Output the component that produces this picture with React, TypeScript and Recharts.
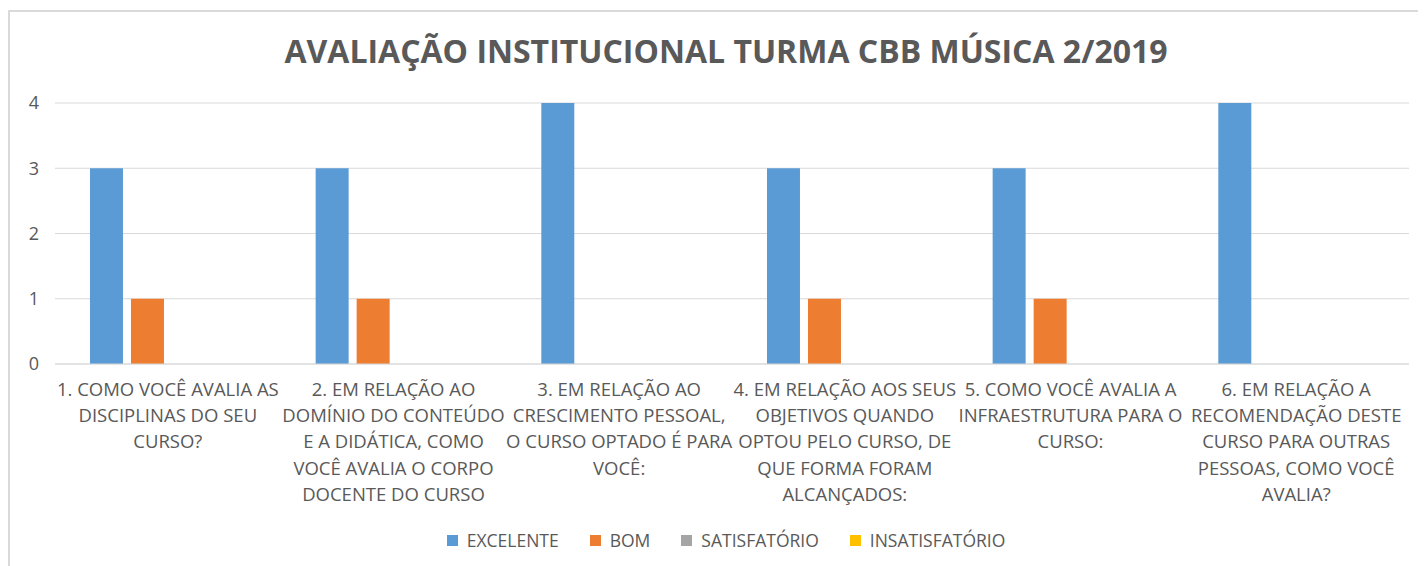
import React from 'react'
import { BarChart, Bar, XAxis, YAxis, CartesianGrid, Legend } from 'recharts'

const categories = [
  '1. COMO VOCÊ AVALIA AS\nDISCIPLINAS DO SEU\nCURSO?',
  '2. EM RELAÇÃO AO\nDOMÍNIO DO CONTEÚDO\nE A DIDÁTICA, COMO\nVOCÊ AVALIA O CORPO\nDOCENTE DO CURSO',
  '3. EM RELAÇÃO AO\nCRESCIMENTO PESSOAL,\nO CURSO OPTADO É PARA\nVOCÊ:',
  '4. EM RELAÇÃO AOS SEUS\nOBJETIVOS QUANDO\nOPTOU PELO CURSO, DE\nQUE FORMA FORAM\nALCANÇADOS:',
  '5. COMO VOCÊ AVALIA A\nINFRAESTRUTURA PARA O\nCURSO:',
  '6. EM RELAÇÃO A\nRECOMENDAÇÃO DESTE\nCURSO PARA OUTRAS\nPESSOAS, COMO VOCÊ\nAVALIA?',
]
const excelente = [3, 3, 4, 3, 3, 4]
const bom = [1, 1, 0, 1, 1, 0]
const satisfatorio = [0, 0, 0, 0, 0, 0]
const insatisfatorio = [0, 0, 0, 0, 0, 0]
const yTicks = [0, 1, 2, 3, 4]

const series = [
  { key: 'excelente', label: 'EXCELENTE', color: '#5B9BD5' },
  { key: 'bom', label: 'BOM', color: '#ED7D31' },
  { key: 'satisfatorio', label: 'SATISFATÓRIO', color: '#A5A5A5' },
  { key: 'insatisfatorio', label: 'INSATISFATÓRIO', color: '#FFC000' },
]

const data = categories.map((name, i) => ({
  name,
  excelente: excelente[i],
  bom: bom[i],
  satisfatorio: satisfatorio[i],
  insatisfatorio: insatisfatorio[i],
}))

const FONT = '"Open Sans", sans-serif'
const TEXT = '#595959'

function CategoryTick(props: any) {
  const { x, y, payload } = props
  const lines = String(payload.value).split('\n')
  return (
    <text x={x} y={y + 24} textAnchor="middle" fill={TEXT} fontSize={18.5} fontFamily={FONT}>
      {lines.map((l, i) => (
        <tspan key={i} x={x} dy={i === 0 ? 0 : 26.2}>{l}</tspan>
      ))}
    </text>
  )
}

function LegendContent() {
  return (
    <div style={{ display: 'flex', justifyContent: 'center', gap: 31, paddingLeft: 16, fontFamily: FONT, fontSize: 17.5, color: TEXT }}>
      {series.map(s => (
        <div key={s.key} style={{ display: 'flex', alignItems: 'center' }}>
          <span style={{ width: 11, height: 11, background: s.color, marginRight: 9, display: 'inline-block' }} />
          {s.label}
        </div>
      ))}
    </div>
  )
}

export default function App() {
  return (
    <div style={{ position: 'relative', width: 1418, height: 570, marginTop: 2, borderTop: '2px solid #dadada', borderLeft: '2px solid #dadada', boxSizing: 'border-box' }}>
      <div style={{ position: 'absolute', top: 17, left: 8, width: 1416, textAlign: 'center', fontFamily: FONT, fontWeight: 700, fontSize: 32, color: TEXT }}>
        AVALIAÇÃO INSTITUCIONAL TURMA CBB MÚSICA 2/2019
      </div>
      <BarChart
        width={1416}
        height={568}
        data={data}
        margin={{ top: 91, right: 17, bottom: 0, left: 0 }}
        barCategoryGap="15.5%"
        barGap={8}
      >
        <CartesianGrid vertical={false} stroke="#d9d9d9" />
        <XAxis dataKey="name" axisLine={{ stroke: '#d9d9d9' }} tickLine={false} interval={0} height={192} tick={<CategoryTick />} />
        <YAxis
          domain={[0, 4]}
          ticks={yTicks}
          width={45}
          axisLine={false}
          tickLine={false}
          tickSize={0}
          tickMargin={16}
          tick={{ fill: TEXT, fontSize: 18, fontFamily: FONT }}
        />
        <Legend content={<LegendContent />} wrapperStyle={{ position: 'absolute', top: 516, left: 0, width: 1416 }} />
        {series.map(s => (
          <Bar key={s.key} dataKey={s.key} name={s.label} fill={s.color} isAnimationActive={false} />
        ))}
      </BarChart>
    </div>
  )
}
